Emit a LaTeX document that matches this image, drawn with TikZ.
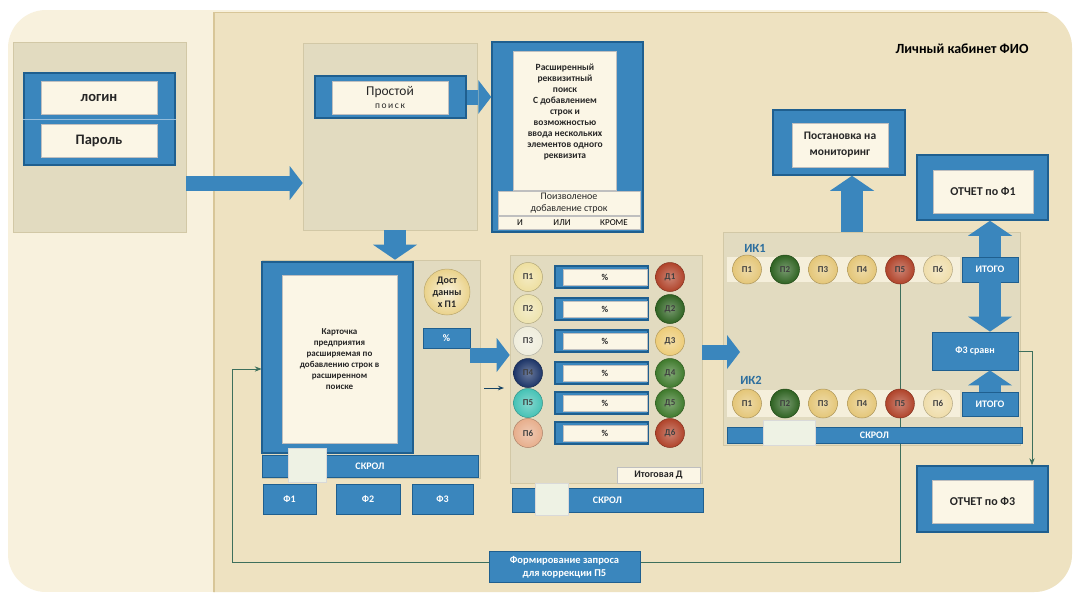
\documentclass[tikz,border=0pt]{standalone}
\usepackage{fontspec}
\setmainfont{Carlito}
\usetikzlibrary{arrows.meta}

\definecolor{creambg}{HTML}{F8F1DD}
\definecolor{tanbg}{HTML}{EEE2C1}
\definecolor{tanedge}{HTML}{D8C698}
\definecolor{panelgray}{HTML}{E2DBC0}
\definecolor{paneledge}{HTML}{D2C8A6}
\definecolor{boxblue}{HTML}{3A86BD}
\definecolor{edgeblue}{HTML}{1F5F8F}
\definecolor{cardwhite}{HTML}{FBF6E6}
\definecolor{thumbwhite}{HTML}{EEF2E4}
\definecolor{stripbg}{HTML}{F5EFDB}
\definecolor{linegreen}{HTML}{3D6F5C}
\definecolor{labelblue}{HTML}{2C6E9E}
\definecolor{pyellow}{HTML}{EEDFA0}
\definecolor{pyellowb}{HTML}{EDE3AE}
\definecolor{pwhite}{HTML}{EFEDDC}
\definecolor{pnavy}{HTML}{1D3568}
\definecolor{pteal}{HTML}{45C2B5}
\definecolor{ppeach}{HTML}{E7AE8C}
\definecolor{dred}{HTML}{B0432A}
\definecolor{dgreen}{HTML}{2F6322}
\definecolor{dgreenb}{HTML}{3F7A2C}
\definecolor{dyellow}{HTML}{EDCC78}
\definecolor{igold}{HTML}{E4C678}
\definecolor{ilight}{HTML}{EFDDAA}
\definecolor{dostgold}{HTML}{EAD28A}

\pgfdeclarelayer{back}
\pgfdeclarelayer{panels}
\pgfdeclarelayer{lines}
\pgfsetlayers{back,panels,lines,main}

\begin{document}
\begin{tikzpicture}[x=1pt,y=-1pt,
  every node/.style={inner sep=0pt, font=\bfseries\fontsize{9}{11}\selectfont},
  sz/.style 2 args={minimum width=#1pt, minimum height=#2pt},
  panel/.style={rectangle, fill=panelgray, draw=paneledge, line width=0.6pt},
  bframe/.style={rectangle, fill=boxblue, draw=edgeblue, line width=1.5pt},
  wbox/.style={rectangle, fill=cardwhite, draw=black!25, line width=0.5pt, text=black!85, align=center},
  bbtn/.style={rectangle, fill=boxblue, draw=edgeblue, line width=0.8pt, text=white, align=center,
    font=\bfseries\fontsize{10}{12}\selectfont},
  thumb/.style={rectangle, fill=thumbwhite, draw=black!15, line width=0.5pt},
  strip/.style={rectangle, fill=stripbg},
  pc/.style={circle, minimum size=29pt, inner color=#1!65!white, outer color=#1,
    draw=#1!75!black, line width=0.5pt, text=black!75},
  blockarrow/.style={draw=boxblue, line width=15pt,
    -{Triangle[width=34pt,length=13pt,line width=0pt]}},
  fatarrow/.style={draw=boxblue, line width=22pt,
    -{Triangle[width=44pt,length=15pt,line width=0pt]}},
  fline/.style={draw=linegreen, line width=0.9pt}]

  \useasboundingbox (0,0) rectangle (1078,595);

  % Background
  \begin{pgfonlayer}{back}
    \fill[white] (0,0) rectangle (1078,595);
    \begin{scope}
      \clip[rounded corners=38pt] (8,10) rectangle (1072,592);
      \fill[creambg] (8,10) rectangle (1072,592);
      \fill[tanbg] (214,12) rectangle (1078,595);
      \draw[tanedge, line width=1.2pt] (214,12) -- (214,595);
      \draw[tanedge, line width=0.8pt] (214,12.5) -- (1078,12.5);
    \end{scope}
  \end{pgfonlayer}

  % Panels
  \begin{pgfonlayer}{panels}
    \node[panel, sz={173}{190}] (loginpanel) at (99.5,137) {};
    \node[panel, sz={174}{187}] (searchpanel) at (390,136.5) {};
    \node[panel, sz={218}{218}] (cardpanel) at (371,369) {};
    \node[panel, sz={192}{228}] (midpanel) at (606,369) {};
    \node[panel, sz={297}{213}] (ikpanel) at (871.5,338.5) {};
  \end{pgfonlayer}

  \node[font=\bfseries\fontsize{14}{16}\selectfont] (title) at (962,49) {Личный кабинет ФИО};

  % Login
  \node[bframe, sz={151}{92}] (loginframe) at (99.5,119) {};
  \draw[boxblue!55!white, line width=1pt] (loginframe.west |- 0,119) -- (loginframe.east |- 0,119);
  \node[wbox, sz={116}{33}, font=\bfseries\fontsize{14.5}{16}\selectfont] (login) at (99,97.5) {логин};
  \node[wbox, sz={116}{33}, font=\bfseries\fontsize{14.5}{16}\selectfont] (pass) at (99,140.5) {Пароль};

  % Simple search
  \node[bframe, sz={151}{42}] (searchframe) at (390.5,97) {};
  \node[wbox, sz={116}{33}, font=\fontsize{13.5}{14}\selectfont] (search) at (390,97.5)
    {Простой\\[-1pt]{\fontsize{9.5}{10}\selectfont п\,о\,и\,с\,к}};

  % Extended search
  \node[bframe, sz={151}{190}] (extframe) at (567.5,137) {};
  \node[wbox, sz={103}{139}] (ext) at (564.5,120.5) {};
  \node[font=\bfseries\fontsize{9.5}{11}\selectfont, align=center, text=black!85] (exttext) at (565,112)
    {Расширенный\\реквизитный\\поиск\\С добавлением\\строк и\\возможностью\\ввода нескольких\\элементов одного\\реквизита};
  \node[wbox, sz={142}{24}, font=\fontsize{10}{12}\selectfont] (addrows) at (569,203)
    {Поизволеное\\добавление строк};
  \node[wbox, sz={142}{13}] (logic) at (569,222.5) {};
  \node[font=\fontsize{9}{10}\selectfont] (opand) at (520,222.5) {И};
  \node[font=\fontsize{9}{10}\selectfont] (opor) at (562,222.5) {ИЛИ};
  \node[font=\fontsize{9}{10}\selectfont] (opnot) at (614,222.5) {КРОМЕ};

  % Card
  \node[bframe, sz={151}{191}] (cardframe) at (337.5,357.5) {};
  \node[wbox, sz={115}{168}, font=\bfseries\fontsize{9}{11}\selectfont] (card) at (339.5,359)
    {Карточка\\предприятия\\расширяемая по\\добавлению строк в\\расширенном\\поиске};
  \node[bbtn, sz={216}{22}] (cardscroll) at (370,466) {СКРОЛ};
  \node[thumb, sz={38}{34}] (cardthumb) at (307,465) {};
  \node[bbtn, sz={53}{30}] (f1) at (289.5,499) {Ф1};
  \node[bbtn, sz={64}{30}] (f2) at (368,499) {Ф2};
  \node[bbtn, sz={61}{30}] (f3) at (442.5,499) {Ф3};
  \node[circle, minimum size=46pt, inner color=dostgold!30!white, outer color=dostgold,
    draw=dostgold!80!black, line width=0.5pt, align=center, text=black!85,
    font=\bfseries\fontsize{10}{12}\selectfont] (dost) at (447,292) {Дост\\данны\\х П1};
  \node[bbtn, sz={47}{20}] (dostpct) at (446.5,338) {\%};

  % P / D column
  \foreach \i/\y/\pc/\dc in {1/277/pyellow/dred, 2/309/pyellowb/dgreen, 3/341/pwhite/dyellow,
      4/373/pnavy/dgreenb, 5/403/pteal/dgreenb, 6/433/ppeach/dred}{
    \node[pc=\pc] (p\i) at (528,\y) {П\i};
    \node[bframe, sz={93}{22}] (pf\i) at (601.5,\y) {};
    \node[wbox, sz={84}{16}] (pct\i) at (605,\y) {\%};
    \node[pc=\dc] (d\i) at (670,\y) {Д\i};
  }
  \node[wbox, sz={83}{16}, font=\bfseries\fontsize{10}{11}\selectfont] (itogd) at (658.5,475) {Итоговая Д};
  \node[bbtn, sz={191}{24}] (midscroll) at (607.5,500) {СКРОЛ};
  \node[thumb, sz={33}{32}] (midthumb) at (551.5,499) {};

  % IK
  \node[text=labelblue, font=\bfseries\fontsize{12.5}{14}\selectfont] (ik1lbl) at (755,248) {ИК1};
  \node[text=labelblue, font=\bfseries\fontsize{12.5}{14}\selectfont] (ik2lbl) at (751,380) {ИК2};
  \node[strip, sz={233}{25}] (ik1row) at (843.5,269.5) {};
  \node[strip, sz={233}{27}] (ik2row) at (843.5,403.5) {};
  \foreach \i/\x/\c in {1/747/igold, 2/785/dgreen, 3/823/igold, 4/862/igold, 5/900/dred, 6/938/ilight}{
    \node[pc=\c] (ika\i) at (\x,269.5) {П\i};
    \node[pc=\c] (ikb\i) at (\x,403.5) {П\i};
  }
  \node[bbtn, sz={56}{25}] (itogo1) at (990,269.5) {ИТОГО};
  \node[bbtn, sz={56}{24}] (itogo2) at (990,404) {ИТОГО};
  \node[bbtn, sz={295}{16}] (ikscroll) at (874.5,435) {СКРОЛ};
  \node[thumb, sz={52}{25}] (ikthumb) at (789,432.5) {};
  \node[bbtn, sz={86}{38}] (f3cmp) at (975,351) {Ф3 сравн};

  % Outputs
  \node[bframe, sz={132}{65}] (postframe) at (839,142.5) {};
  \node[wbox, sz={96}{44}, font=\bfseries\fontsize{11.5}{16}\selectfont] (post) at (840,145) {Постановка на\\мониторинг};
  \node[bframe, sz={131}{65}] (rep1frame) at (982.5,187.5) {};
  \node[wbox, sz={100}{43}, font=\bfseries\fontsize{12}{13}\selectfont] (rep1) at (983,191.5) {ОТЧЕТ по Ф1};
  \node[bframe, sz={131}{66}] (rep3frame) at (982.5,499) {};
  \node[wbox, sz={101}{43}, font=\bfseries\fontsize{12}{13}\selectfont] (rep3) at (982.5,501.5) {ОТЧЕТ по Ф3};
  \node[bbtn, sz={151}{31}, font=\bfseries\fontsize{10.5}{13}\selectfont] (query) at (564.5,567)
    {Формирование запроса\\для коррекции П5};

  % Block arrows
  \coordinate (ikin) at (740,352);
  \draw[blockarrow] (loginpanel.east |- 0,183) -- (searchpanel.west |- 0,183);
  \draw[blockarrow] (searchframe.east) -- (extframe.west |- searchframe.east);
  \draw[fatarrow] (searchpanel.south -| 395,0) -- (cardpanel.north -| 395,0);
  \draw[blockarrow] (dostpct.east |- 0,355) -- (midpanel.west |- 0,355);
  \draw[blockarrow] (midpanel.east |- ikin) -- (ikin);
  \draw[fatarrow] (ikpanel.north -| 852,0) -- (postframe.south -| 852,0);
  \draw[fatarrow] (itogo1.north) -- (itogo1.north |- rep1frame.south);
  \draw[fatarrow] (itogo1.south) -- (itogo1.south |- f3cmp.north);
  \draw[fatarrow] (itogo2.north) -- (itogo2.north |- f3cmp.south);

  % small arrow
  \coordinate (sa) at (484,388);
  \draw[edgeblue!70!black, line width=1pt, -{Stealth[length=6pt]}] (sa) -- ++(20,0);

  % Thin lines
  \begin{pgfonlayer}{lines}
    \coordinate (bendl) at (232,562);
    \draw[fline] (ika5.south) -- (ikb5.north);
    \draw[fline, -{Stealth[length=7pt]}] (ikb5.south) |- (bendl) |- (cardpanel.west);
    \draw[fline, -{Stealth[length=7pt]}] (f3cmp.east) -| (rep3frame.north -| 1032,0);
  \end{pgfonlayer}
\end{tikzpicture}
\end{document}
